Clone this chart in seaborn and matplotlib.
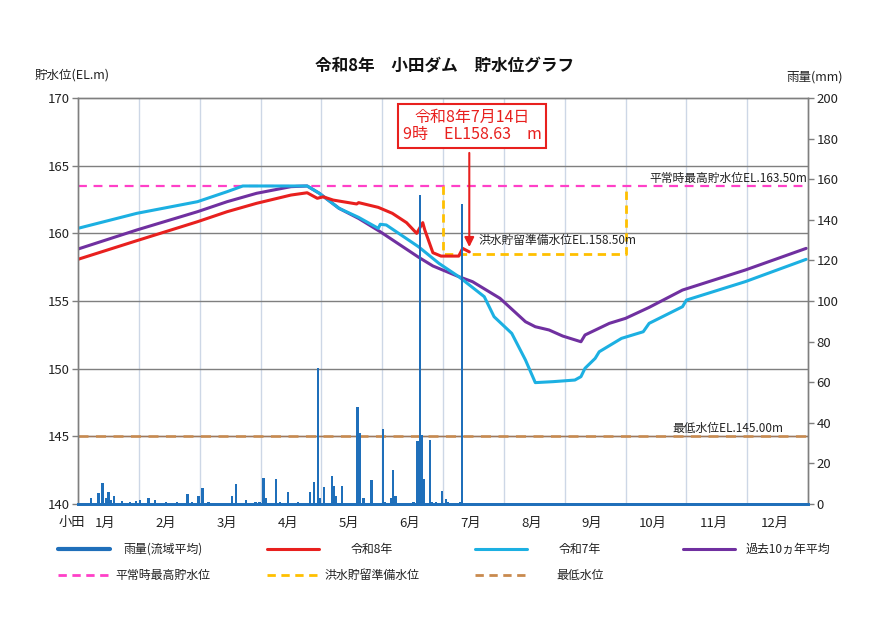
import matplotlib.pyplot as plt
import numpy as np
import pandas as pd
import seaborn as sns
from matplotlib.lines import Line2D

# days per month (令和8年 = 2026, not a leap year)
month_days = [31, 28, 31, 30, 31, 30, 31, 31, 30, 31, 30, 31]
month_labels = ["1月", "2月", "3月", "4月", "5月", "6月",
                "7月", "8月", "9月", "10月", "11月", "12月"]


def pos(md, hour=0):
    # "M/D" -> position on the x axis in months (each month has equal width)
    m, d = [int(v) for v in md.split("/")]
    return m - 1 + (d - 1 + hour / 24) / month_days[m - 1]


# 令和8年 storage level (EL.m)
r8_dates = ["1/1", "1/31", "2/28", "3/15", "3/30", "4/16", "4/24", "4/29", "5/2",
            "5/7", "5/19", "5/20", "5/30", "6/6", "6/13", "6/18", "6/21", "6/22",
            "6/26", "6/30", "7/9", "7/11", "7/14"]
r8_level = [158.08, 159.46, 160.86, 161.6, 162.22, 162.83, 163.0, 162.59, 162.7,
            162.46, 162.17, 162.27, 161.92, 161.48, 160.79, 160.0, 160.79, 160.25,
            158.57, 158.32, 158.32, 158.89, 158.63]

# 令和7年 storage level
r7_dates = ["1/1", "1/31", "2/28", "3/15", "3/23", "4/24", "4/30", "5/10", "5/20",
            "5/30", "5/31", "6/3", "6/19", "6/29", "7/9", "7/22", "7/27", "8/5",
            "8/12", "8/17", "8/26", "9/6", "9/9", "9/11", "9/16", "9/18", "9/29",
            "10/10", "10/13", "10/30", "11/1", "11/30", "12/31"]
r7_level = [160.37, 161.48, 162.34, 163.08, 163.5, 163.5, 162.96, 161.85, 161.18,
            160.37, 160.67, 160.62, 159.0, 157.78, 156.8, 155.32, 153.84, 152.61,
            150.64, 148.97, 149.04, 149.16, 149.41, 150.03, 150.76, 151.25, 152.24,
            152.73, 153.35, 154.58, 155.07, 156.43, 158.08]

# 過去10ヵ年平均 storage level
avg_dates = ["1/1", "1/31", "2/28", "3/15", "3/30", "4/16", "4/24", "4/30", "5/10",
             "5/20", "5/31", "6/19", "6/26", "7/9", "7/16", "7/30", "8/12", "8/17",
             "8/24", "8/31", "9/9", "9/11", "9/23", "10/1", "10/13", "10/30",
             "11/30", "12/31"]
avg_level = [158.84, 160.25, 161.6, 162.34, 162.96, 163.45, 163.5, 162.96, 161.85,
             161.1, 160.12, 158.23, 157.59, 156.8, 156.43, 155.2, 153.47, 153.1,
             152.86, 152.41, 151.99, 152.49, 153.35, 153.72, 154.53, 155.81,
             157.29, 158.89]

# 雨量(流域平均) daily rainfall (mm)
rain_dates = ["1/7", "1/11", "1/13", "1/15", "1/16", "1/17", "1/19", "1/23", "1/27",
              "1/30", "2/1", "2/5", "2/8", "2/13", "2/18", "2/23", "2/25", "2/28",
              "3/2", "3/5", "3/17", "3/19", "3/24", "3/29", "3/31", "4/2", "4/3",
              "4/8", "4/10", "4/14", "4/19", "4/25", "4/27", "4/29", "4/30", "5/2",
              "5/6", "5/7", "5/8", "5/11", "5/19", "5/20", "5/22", "5/26", "6/1",
              "6/2", "6/5", "6/6", "6/7", "6/16", "6/18", "6/19", "6/20", "6/21",
              "6/24", "6/25", "6/27", "6/30", "7/2", "7/3", "7/9", "7/10"]
rain_mm = [3, 5.6, 10.5, 3, 6, 2, 4, 1.5, 1, 1.5, 2, 3, 2, 1, 1, 5, 1, 4,
           7.7, 1, 4, 9.7, 2, 1, 1, 13, 3, 12.5, 1, 5.7, 1, 5.7, 10.7, 67, 3, 8.5,
           13.8, 9, 4, 8.8, 47.6, 35, 3, 11.8, 37, 1, 3, 16.7, 4, 1, 31, 152, 34, 12.3,
           31.5, 1, 1, 6.6, 2.5, 1, 1, 148]

# reference levels
normal_max = 163.5      # 平常時最高貯水位
flood_ready = 158.5     # 洪水貯留準備水位
min_level = 145.0       # 最低水位
flood_start, flood_end = "7/1", "9/30"
latest_date, latest_hour, latest_level = "7/14", 9, 158.63

c_rain = "#1f6fba"
c_r8 = "#e8201e"
c_r7 = "#1cb0e2"
c_avg = "#7030a0"
c_pink = "#ff40c8"
c_yellow = "#ffc000"
c_min = "#c98a4e"

sns.set_theme(style="white")
plt.rcParams["font.family"] = ["Noto Sans CJK JP", "DejaVu Sans"]

r8 = pd.DataFrame({"x": [pos(d) for d in r8_dates], "y": r8_level})
r8.loc[r8.index[-1], "x"] = pos(latest_date, latest_hour)
r7 = pd.DataFrame({"x": [pos(d) for d in r7_dates], "y": r7_level})
avg = pd.DataFrame({"x": [pos(d) for d in avg_dates], "y": avg_level})
rain = pd.DataFrame({"x": [pos(d) + 0.5 / 31 for d in rain_dates], "mm": rain_mm})

fig, ax = plt.subplots(figsize=(8.9, 6.3), dpi=100)
fig.subplots_adjust(left=0.0876, right=0.908, bottom=0.2, top=0.8444)
ax2 = ax.twinx()

# grid lines
for m in range(1, 12):
    ax.axvline(m, color="#cdd7e6", lw=1, zorder=0)
for lv in [145, 150, 155, 160, 165]:
    ax.axhline(lv, color="#7f7f7f", lw=1, zorder=0)

# reference levels
ax.axhline(normal_max, color=c_pink, lw=1.6, ls=(0, (4, 3)), zorder=1)
ax.axhline(min_level, color="#a0785a", lw=1.0, zorder=1)
ax.axhline(min_level, color=c_min, lw=1.8, ls=(0, (4, 3)), zorder=1)
fs, fe = pos(flood_start), pos(flood_end) + 1 / 30
ax.plot([fs, fs, fe, fe], [normal_max, flood_ready, flood_ready, normal_max],
        color=c_yellow, lw=2, ls=(0, (3, 2)), zorder=1)

# level curves
sns.lineplot(data=avg, x="x", y="y", ax=ax, color=c_avg, lw=2.2, sort=False, zorder=3)
sns.lineplot(data=r7, x="x", y="y", ax=ax, color=c_r7, lw=2.2, sort=False, zorder=4)
sns.lineplot(data=r8, x="x", y="y", ax=ax, color=c_r8, lw=2.2, sort=False, zorder=5)

# rainfall bars
ax2.bar(rain["x"], rain["mm"], width=1.2 / 31, color=c_rain, linewidth=0)

ax.set_xlim(0, 12)
ax.set_ylim(140, 170)
ax2.set_ylim(0, 200)
ax.set_yticks(range(140, 171, 5))
ax2.set_yticks(range(0, 201, 20))
ax.set_xticks([m + 0.45 for m in range(12)])
ax.set_xticklabels(month_labels)
ax.set_xlabel("")
ax.set_ylabel("")
ax2.set_ylabel("")
ax.tick_params(axis="x", length=0, pad=9, labelsize=9.5, colors="#222222")
ax.tick_params(axis="y", length=4, width=1, color="#7f7f7f", pad=2,
               labelsize=9.5, labelcolor="#222222", direction="out", left=True)
ax2.tick_params(axis="y", length=4, width=1, color="#7f7f7f", pad=2,
                labelsize=9.5, labelcolor="#222222", direction="out", right=True)
for a in (ax, ax2):
    for s in ["left", "right", "top"]:
        a.spines[s].set_color("#7f7f7f")
        a.spines[s].set_linewidth(1)
    a.spines["bottom"].set_color(c_rain)
    a.spines["bottom"].set_linewidth(2)

ax.text(-0.1, -0.045, "小田", transform=ax.get_xaxis_transform(),
        ha="center", va="center", fontsize=9.5, color="#222222")

# labels on the reference lines
ax.text(11.98, normal_max + 0.1, "平常時最高貯水位EL.163.50m", ha="right", va="bottom",
        fontsize=8.5, color="#222222")
ax.text(6.58, flood_ready + 0.5, "洪水貯留準備水位EL.158.50m", ha="left", va="bottom",
        fontsize=8.5, color="#222222")
ax.text(11.6, min_level + 0.1, "最低水位EL.145.00m", ha="right", va="bottom",
        fontsize=8.5, color="#222222")

# latest value call-out
lx = pos(latest_date, latest_hour)
ax.text(6.48, 167.93, "令和8年7月14日\n9時　EL158.63　m", ha="center", va="center",
        fontsize=11.5, color=c_r8, linespacing=1.05, zorder=6,
        bbox=dict(boxstyle="square,pad=0.3", fc="white", ec=c_r8, lw=1.5))
ax.annotate("", xy=(lx, latest_level + 0.15), xytext=(lx, 166.15),
            arrowprops=dict(arrowstyle="-|>", color=c_r8, lw=1.5,
                            mutation_scale=14), zorder=6)

fig.text(0.5, 0.895, "令和8年　小田ダム　貯水位グラフ", ha="center", va="center",
         fontsize=12, fontweight="bold", color="#111111")
fig.text(35 / 890, 1 - 75 / 630, "貯水位(EL.m)", ha="left", va="center",
         fontsize=9, color="#222222")
fig.text(815 / 890, 1 - 77 / 630, "雨量(mm)", ha="center", va="center",
         fontsize=9, color="#222222")

# legend laid out like the spreadsheet one: 4 columns, label centred after the key
legend_rows = [
    [("雨量(流域平均)", c_rain, "-", 3), ("令和8年", c_r8, "-", 2.2),
     ("令和7年", c_r7, "-", 2.2), ("過去10ヵ年平均", c_avg, "-", 2.2)],
    [("平常時最高貯水位", c_pink, (0, (3, 2)), 2), ("洪水貯留準備水位", c_yellow, (0, (3, 2)), 2),
     ("最低水位", c_min, (0, (3, 2)), 2)],
]
col_x = [58, 267, 475, 683]
row_y = [549, 575]
for r, row in enumerate(legend_rows):
    for c, (label, color, ls, lw) in enumerate(row):
        x0 = col_x[c]
        y = 1 - row_y[r] / 630
        fig.add_artist(Line2D([x0 / 890, (x0 + 52) / 890], [y, y], color=color,
                              lw=lw, ls=ls, transform=fig.transFigure))
        fig.text((x0 + 105) / 890, y, label, ha="center", va="center",
                 fontsize=8.6, color="#222222")

fig.savefig("out.png", dpi=100)
